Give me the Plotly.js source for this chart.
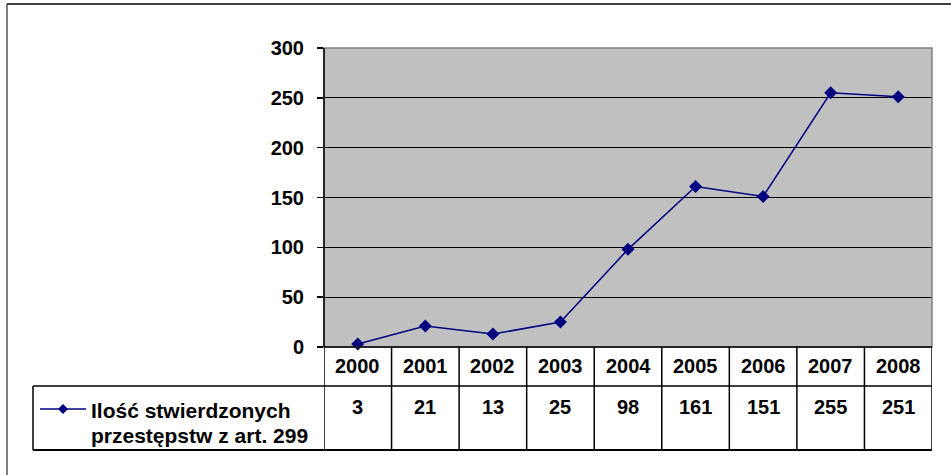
<!DOCTYPE html>
<html>
<head>
<meta charset="utf-8">
<script src="https://cdn.plot.ly/plotly-3.0.1.min.js"></script>
<style>
  html, body { margin: 0; padding: 0; background: #ffffff; }
  #chart { width: 951px; height: 475px; }
</style>
</head>
<body>
<div id="chart"></div>
<script>
// Liczba stwierdzonych przestępstw z art. 299 w latach 2000–2008
const years = ['2000', '2001', '2002', '2003', '2004', '2005', '2006', '2007', '2008'];
const counts = [3, 21, 13, 25, 98, 161, 151, 255, 251];
const seriesName = ['Ilość stwierdzonych', 'przestępstw z art. 299'];
const yTicks = [0, 50, 100, 150, 200, 250, 300];

// plot area in pixels
const W = 951, H = 475;
const L = 324, R = 932, T = 48, B = 347;
const PW = R - L, PH = B - T;
const px = x => (x - L) / PW;   // pixel -> paper x
const py = y => (B - y) / PH;   // pixel -> paper y

const FONT = 'Arial, "Liberation Sans", sans-serif';
const NAVY = '#000080';
const idx = years.map((_, i) => i);

const trace = {
  x: idx,
  y: counts,
  type: 'scatter',
  mode: 'lines+markers',
  line: { color: NAVY, width: 1.5 },
  marker: { symbol: 'diamond', size: 10, color: NAVY },
  cliponaxis: false,
  hoverinfo: 'skip',
  showlegend: false
};

const shapes = [];
const line = (x0, y0, x1, y1, color, width, xref, yref) => shapes.push({
  type: 'line', x0, y0, x1, y1,
  xref: xref || 'paper', yref: yref || 'paper',
  line: { color, width }, layer: 'above'
});

// plot area border
shapes.push({
  type: 'rect', xref: 'paper', yref: 'paper', x0: 0, y0: 0, x1: 1, y1: 1,
  line: { color: '#808080', width: 1.5 }, layer: 'above'
});
line(0, 0, 0, 1, '#000000', 1.5);
line(0, 0, 1, 0, '#000000', 1.5);

// data table grid
years.forEach((_, i) => line(i - 0.5, py(B), i - 0.5, py(450), '#000000', 1.5, 'x', 'paper'));
line(years.length - 0.5, py(B), years.length - 0.5, py(450), '#000000', 1.5, 'x', 'paper');
line(px(33), py(386), 1, py(386), '#000000', 1.5);
line(px(33), py(450), 1, py(450), '#000000', 2);
line(px(33), py(386), px(33), py(450), '#000000', 1.5);

// outer chart frame
line(px(7), py(4), px(7), py(H), '#808080', 2);
line(px(7), py(4), px(W), py(4), '#000000', 1.5);

// legend key inside the table
line(px(40), py(409), px(86), py(409), NAVY, 1.5);
shapes.push({
  type: 'path', xref: 'paper', yref: 'paper',
  xsizemode: 'pixel', ysizemode: 'pixel',
  xanchor: px(63), yanchor: py(409),
  path: 'M0,5 L5,0 L0,-5 L-5,0 Z',
  fillcolor: NAVY, line: { color: NAVY, width: 0 }, layer: 'above'
});

const annotations = [];
const txt = (text, x, y, xref, align, size) => annotations.push({
  text, x, y, xref: xref || 'paper', yref: 'paper',
  xanchor: align || 'center', yanchor: 'middle', showarrow: false,
  font: { family: FONT, size: size || 20, color: '#000000', weight: 'bold' }
});
years.forEach((yr, i) => txt(yr, i, py(366), 'x'));
counts.forEach((v, i) => txt(String(v), i, py(407), 'x'));
txt(seriesName[0], px(89), py(410), 'paper', 'left', 21);
txt(seriesName[1], px(89), py(435), 'paper', 'left', 21);

const layout = {
  width: W, height: H,
  margin: { l: L, r: W - R, t: T, b: H - B, pad: 0 },
  paper_bgcolor: '#ffffff',
  plot_bgcolor: '#c0c0c0',
  showlegend: false,
  xaxis: {
    range: [-0.5, years.length - 0.5],
    showgrid: false, zeroline: false, showticklabels: false, ticks: '',
    fixedrange: true
  },
  yaxis: {
    range: [0, 300],
    tickvals: yTicks,
    ticktext: yTicks.map(String),
    showgrid: true, gridcolor: '#000000', gridwidth: 1.2,
    zeroline: false,
    ticks: 'outside', ticklen: 6, tickcolor: '#000000', tickwidth: 1.5,
    ticklabelstandoff: 9,
    tickfont: { family: FONT, size: 20, color: '#000000', weight: 'bold' },
    fixedrange: true
  },
  shapes,
  annotations
};

Plotly.newPlot('chart', [trace], layout, { staticPlot: true, displayModeBar: false });
</script>
</body>
</html>
